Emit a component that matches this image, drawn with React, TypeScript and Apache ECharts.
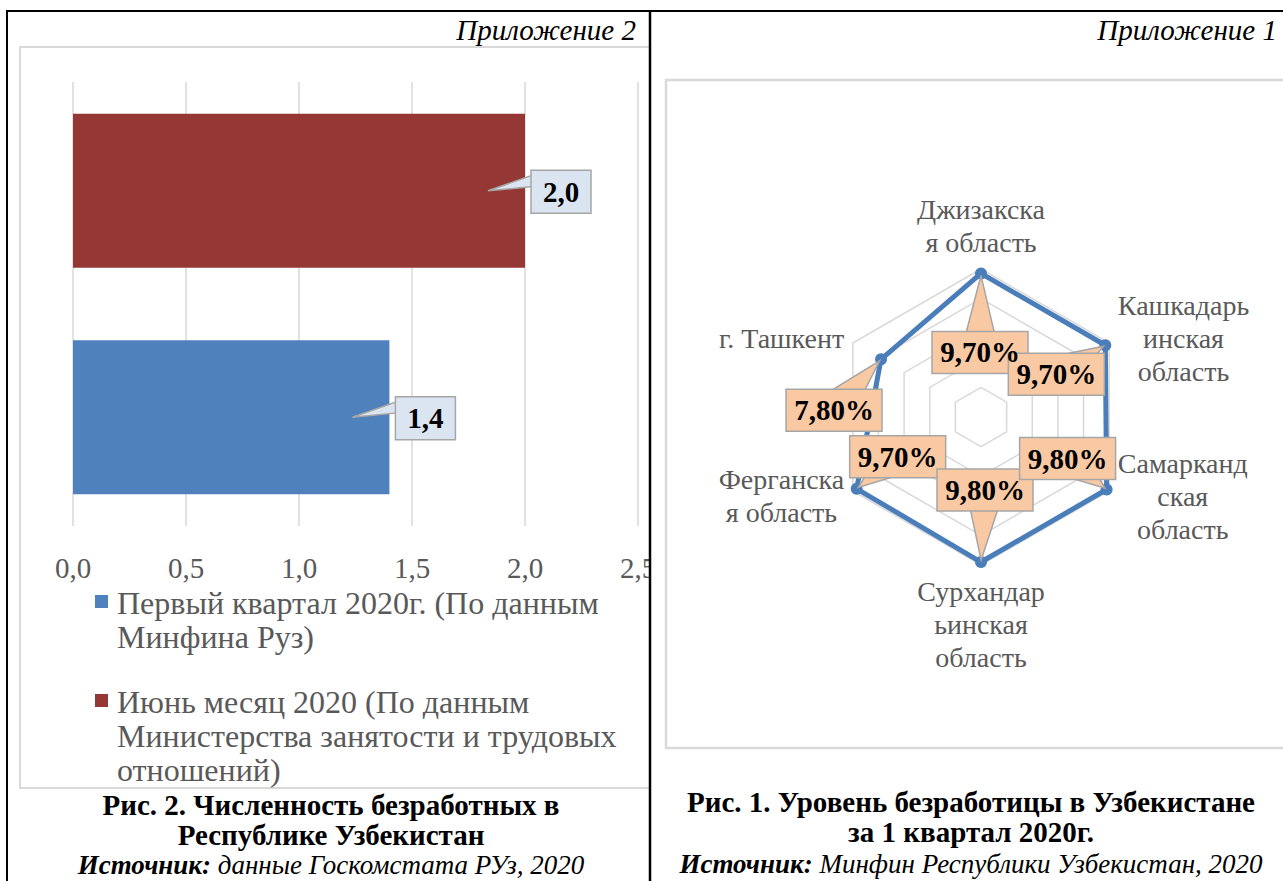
import React, { useEffect, useRef } from 'react';
import * as echarts from 'echarts';

// ---------- data ----------
const barCategories = [''];
const barSeriesNames = [
  'Первый квартал 2020г. (По данным\nМинфина Руз)',
  'Июнь месяц 2020 (По данным\nМинистерства занятости и трудовых\nотношений)',
];
const barValues = [1.4, 2.0];
const xTickMin = 0;
const xTickMax = 2.5;
const xTickStep = 0.5;

// radar indicators in ECharts order (counter-clockwise from top)
const radarNames = [
  'Джизакска\nя область',
  'г. Ташкент',
  'Ферганска\nя область',
  'Сурхандар\nьинская\nобласть',
  'Самарканд\nская\nобласть',
  'Кашкадарь\nинская\nобласть',
];
const radarValues = [9.7, 7.8, 9.7, 9.8, 9.8, 9.7];
const radarMax = 10;

// ---------- styles ----------
const FONT = "'Liberation Serif', 'Times New Roman', serif";
const barColors = ['#4f81bd', '#953735'];
const radarColor = '#4a7ebb';
const gridColor = '#d9d9d9';
const textGray = '#595959';
// label box offsets relative to each radar point (styling only)
const radarLabelOffsets = [
  [-1, 79],
  [-47, 51],
  [41, -32],
  [4, -72],
  [-39, -31],
  [-49, 29],
];

const fmt1 = (v: number) => v.toFixed(1).replace('.', ',');
const fmtPct = (v: number) => v.toFixed(2).replace('.', ',') + '%';

export default function App() {
  const ref = useRef<HTMLDivElement>(null);

  useEffect(() => {
    const chart = echarts.init(ref.current as HTMLDivElement, null, { renderer: 'svg' });

    const staticGraphics: any[] = [
      // page frame (table borders)
      { id: 'bTop', type: 'line', z: 60, shape: { x1: 6, y1: 11, x2: 1283, y2: 11 }, style: { stroke: '#000', lineWidth: 2 } },
      { id: 'bLeft', type: 'line', z: 60, shape: { x1: 7, y1: 10, x2: 7, y2: 881 }, style: { stroke: '#000', lineWidth: 2 } },
      { id: 'mask', type: 'rect', z: 55, shape: { x: 651, y: 13, width: 13, height: 868 }, style: { fill: '#ffffff' } },
      { id: 'bMid', type: 'line', z: 60, shape: { x1: 650, y1: 10, x2: 650, y2: 881 }, style: { stroke: '#000', lineWidth: 2.5 } },
      // chart boxes
      { id: 'boxL', type: 'rect', z: 1, shape: { x: 20, y: 47, width: 640, height: 741 }, style: { fill: 'none', stroke: gridColor, lineWidth: 2 } },
      { id: 'boxR', type: 'rect', z: 1, shape: { x: 666, y: 80, width: 660, height: 668 }, style: { fill: 'none', stroke: gridColor, lineWidth: 2.5 } },
      // appendix titles
      { id: 'app2', type: 'text', z: 30, x: 636, y: 30, style: { text: 'Приложение 2', fontFamily: FONT, fontStyle: 'italic', fontSize: 29, fill: '#000', align: 'right', verticalAlign: 'middle' } },
      { id: 'app1', type: 'text', z: 30, x: 1277, y: 30, style: { text: 'Приложение 1', fontFamily: FONT, fontStyle: 'italic', fontSize: 29, fill: '#000', align: 'right', verticalAlign: 'middle' } },
      // captions
      { id: 'capL', type: 'text', z: 30, x: 331, y: 790, style: { text: 'Рис. 2. Численность безработных в\nРеспублике Узбекистан', fontFamily: FONT, fontWeight: 'bold', fontSize: 29, lineHeight: 30, fill: '#000', align: 'center', verticalAlign: 'top' } },
      { id: 'srcL', type: 'text', z: 30, x: 331, y: 865, style: { text: '{b|Источник:}{i| данные Госкомстата РУз, 2020}', align: 'center', verticalAlign: 'middle', rich: { b: { fontFamily: FONT, fontWeight: 'bold', fontStyle: 'italic', fontSize: 27, fill: '#000' }, i: { fontFamily: FONT, fontStyle: 'italic', fontSize: 27, fill: '#000' } } } },
      { id: 'capR', type: 'text', z: 30, x: 971, y: 787, style: { text: 'Рис. 1. Уровень безработицы в Узбекистане\nза 1 квартал 2020г.', fontFamily: FONT, fontWeight: 'bold', fontSize: 29, lineHeight: 30, fill: '#000', align: 'center', verticalAlign: 'top' } },
      { id: 'srcR', type: 'text', z: 30, x: 971, y: 864, style: { text: '{b|Источник:}{i| Минфин Республики Узбекистан, 2020}', align: 'center', verticalAlign: 'middle', rich: { b: { fontFamily: FONT, fontWeight: 'bold', fontStyle: 'italic', fontSize: 27, fill: '#000' }, i: { fontFamily: FONT, fontStyle: 'italic', fontSize: 27, fill: '#000' } } } },
    ];

    // legend (markers aligned with first text line, as in the original)
    const legendFirstLineY = [602, 701];
    barSeriesNames.forEach((name, i) => {
      staticGraphics.push({ id: 'legM' + i, type: 'rect', z: 30, shape: { x: 95, y: legendFirstLineY[i] - 7, width: 13, height: 13 }, style: { fill: barColors[i] } });
      staticGraphics.push({ id: 'legT' + i, type: 'text', z: 30, x: 117, y: legendFirstLineY[i] - 16.5, style: { text: name, fontFamily: FONT, fontSize: 32, lineHeight: 34, fill: textGray, align: 'left', verticalAlign: 'top' } });
    });

    // series order: red (June) first so that it is drawn on top, blue below
    const order = [1, 0];

    chart.setOption({
      animation: false,
      backgroundColor: '#ffffff',
      textStyle: { fontFamily: FONT },
      grid: { left: 73, right: 645, top: 82, bottom: 355, containLabel: false },
      xAxis: {
        type: 'value', min: xTickMin, max: xTickMax, interval: xTickStep,
        axisLine: { show: false }, axisTick: { show: false },
        splitLine: { lineStyle: { color: gridColor, width: 1.5 } },
        axisLabel: { formatter: (v: number) => fmt1(v), color: textGray, fontSize: 29, fontFamily: FONT, margin: 27 },
      },
      yAxis: {
        type: 'category', data: barCategories,
        axisLine: { show: false }, axisTick: { show: false }, axisLabel: { show: false }, splitLine: { show: false },
      },
      radar: {
        center: [981, 417], radius: 148, startAngle: 90, splitNumber: 5, shape: 'polygon',
        indicator: radarNames.map((n) => ({ name: n, min: 0, max: radarMax })),
        axisNameGap: 10,
        axisName: {
          color: textGray, fontFamily: FONT, fontSize: 28, lineHeight: 33,
          formatter: (n: string) => n.split('\n').map((l) => '{c|' + l + '}').join('\n'),
          rich: { c: { align: 'center', color: textGray, fontFamily: FONT, fontSize: 28, lineHeight: 33 } },
        },
        splitLine: { lineStyle: { color: gridColor, width: 1.5 } },
        splitArea: { show: false },
        axisLine: { show: false },
        axisTick: { show: false },
        axisLabel: { show: false },
      },
      series: [
        ...order.map((k) => ({
          type: 'bar', name: barSeriesNames[k], data: [barValues[k]],
          itemStyle: { color: barColors[k] }, barWidth: 154, barGap: '47%',
        })),
        {
          type: 'radar', name: 'Уровень безработицы',
          data: [{ value: radarValues, name: 'Уровень безработицы' }],
          symbol: 'circle', symbolSize: 12,
          lineStyle: { color: radarColor, width: 5 },
          itemStyle: { color: radarColor },
        },
      ],
      graphic: staticGraphics,
    });

    // callouts computed from the library's own layouts
    const model = (chart as any).getModel();
    const callouts: any[] = [];
    const barBoxFill = '#dbe5f1';
    const boxStroke = '#a6a6a6';
    order.forEach((k, si) => {
      const lay = model.getSeriesByIndex(si).getData().getItemLayout(0);
      if (!lay) return;
      const end = lay.x + lay.width;
      const cy = lay.y + lay.height / 2;
      const bx = end + 6, bw = 60, bh = 43, by = cy - bh / 2 + 1;
      callouts.push({ id: 'bt' + k, type: 'polygon', z: 20, shape: { points: [[bx + 4, by + 4], [bx + 4, by + 16], [end - 37, cy]] }, style: { fill: barBoxFill, stroke: boxStroke, lineWidth: 1.5 } });
      callouts.push({ id: 'bb' + k, type: 'rect', z: 21, shape: { x: bx, y: by, width: bw, height: bh }, style: { fill: barBoxFill, stroke: boxStroke, lineWidth: 1.5 } });
      callouts.push({ id: 'bl' + k, type: 'text', z: 22, x: bx + bw / 2, y: by + bh / 2, style: { text: fmt1(barValues[k]), fontFamily: FONT, fontWeight: 'bold', fontSize: 29, fill: '#000', align: 'center', verticalAlign: 'middle' } });
    });

    const radarComp = model.getComponent('radar', 0);
    const cs = radarComp && radarComp.coordinateSystem;
    if (cs) {
      const peach = '#f9c9a3';
      radarValues.forEach((v, i) => {
        const p = cs.dataToPoint(v, i);
        const [ox, oy] = radarLabelOffsets[i];
        const cx = p[0] + ox, cy = p[1] + oy;
        const bw = 96, bh = 42;
        const dx = p[0] - cx, dy = p[1] - cy;
        const len = Math.sqrt(dx * dx + dy * dy) || 1;
        const nx = -dy / len, ny = dx / len;
        const w = 19;
        callouts.push({ id: 'rt' + i, type: 'polygon', z: 20, shape: { points: [[cx + nx * w, cy + ny * w], [cx - nx * w, cy - ny * w], [p[0] - dx / len * 2, p[1] - dy / len * 2]] }, style: { fill: peach, stroke: boxStroke, lineWidth: 1.5 } });
        callouts.push({ id: 'rb' + i, type: 'rect', z: 21, shape: { x: cx - bw / 2, y: cy - bh / 2, width: bw, height: bh }, style: { fill: peach, stroke: boxStroke, lineWidth: 1.5 } });
        callouts.push({ id: 'rl' + i, type: 'text', z: 22, x: cx, y: cy, style: { text: fmtPct(v), fontFamily: FONT, fontWeight: 'bold', fontSize: 29, fill: '#000', align: 'center', verticalAlign: 'middle' } });
      });
    }
    chart.setOption({ graphic: callouts });

    return () => {
      chart.dispose();
    };
  }, []);

  return (
    <div
      ref={ref}
      style={{ position: 'absolute', left: 0, top: 0, width: 1283, height: 881, background: '#fff' }}
    />
  );
}
